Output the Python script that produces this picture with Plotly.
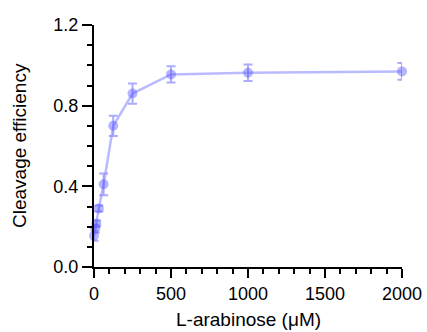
import plotly.graph_objects as go

conc = [0, 7.8, 15.6, 31.25, 62.5, 125, 250, 500, 1000, 2000]
eff = [0.155, 0.19, 0.215, 0.29, 0.41, 0.70, 0.86, 0.955, 0.963, 0.97]
err = [0.025, 0.02, 0.015, 0.015, 0.054, 0.05, 0.05, 0.04, 0.041, 0.041]

x_ticks = [0, 500, 1000, 1500, 2000]
y_ticks = [0, 0.4, 0.8, 1.2]
x_title = "L-arabinose (μM)"
y_title = "Cleavage efficiency"

fig = go.Figure()
fig.add_trace(go.Scatter(
    x=conc, y=eff, mode="lines+markers",
    line=dict(color="rgba(140,140,255,0.6)", width=2.5),
    marker=dict(size=10, color="rgba(90,90,255,0.45)", line=dict(width=0)),
    error_y=dict(type="data", array=err, visible=True,
                 color="rgba(90,90,255,0.5)", thickness=2, width=4.5),
    cliponaxis=False, showlegend=False,
))

font = "Liberation Sans, Arial, sans-serif"
fig.update_layout(
    width=427, height=332,
    margin=dict(l=94, r=25, t=25, b=65),
    plot_bgcolor="white", paper_bgcolor="white",
    font=dict(family=font, color="black", size=18),
    xaxis=dict(
        range=[0, 2000], showgrid=False, zeroline=False, automargin=False,
        showline=True, linecolor="black", linewidth=2,
        ticks="outside", ticklen=9, tickwidth=2, tickcolor="black",
        tickvals=x_ticks,
        minor=dict(dtick=100, ticks="outside", ticklen=5, tickwidth=2, tickcolor="black"),
        tickfont=dict(size=18),
    ),
    yaxis=dict(
        range=[0, 1.2], showgrid=False, zeroline=False, automargin=False,
        showline=True, linecolor="black", linewidth=2,
        ticks="outside", ticklen=10, tickwidth=2, tickcolor="black",
        tickvals=y_ticks, tickformat=".1f",
        minor=dict(dtick=0.1, ticks="outside", ticklen=5, tickwidth=2, tickcolor="black"),
        tickfont=dict(size=18),
    ),
    annotations=[
        dict(text=x_title, xref="paper", yref="paper", x=0.5, y=-0.219,
             xanchor="center", yanchor="middle", showarrow=False,
             font=dict(size=19, family=font, color="black")),
        dict(text=y_title, xref="paper", yref="paper", x=-0.2435, y=0.5,
             xanchor="center", yanchor="middle", textangle=-90, showarrow=False,
             font=dict(size=19, family=font, color="black")),
    ],
)
fig.write_html("out.html", config={"displayModeBar": False},
               post_script="document.body.style.margin='0';")
